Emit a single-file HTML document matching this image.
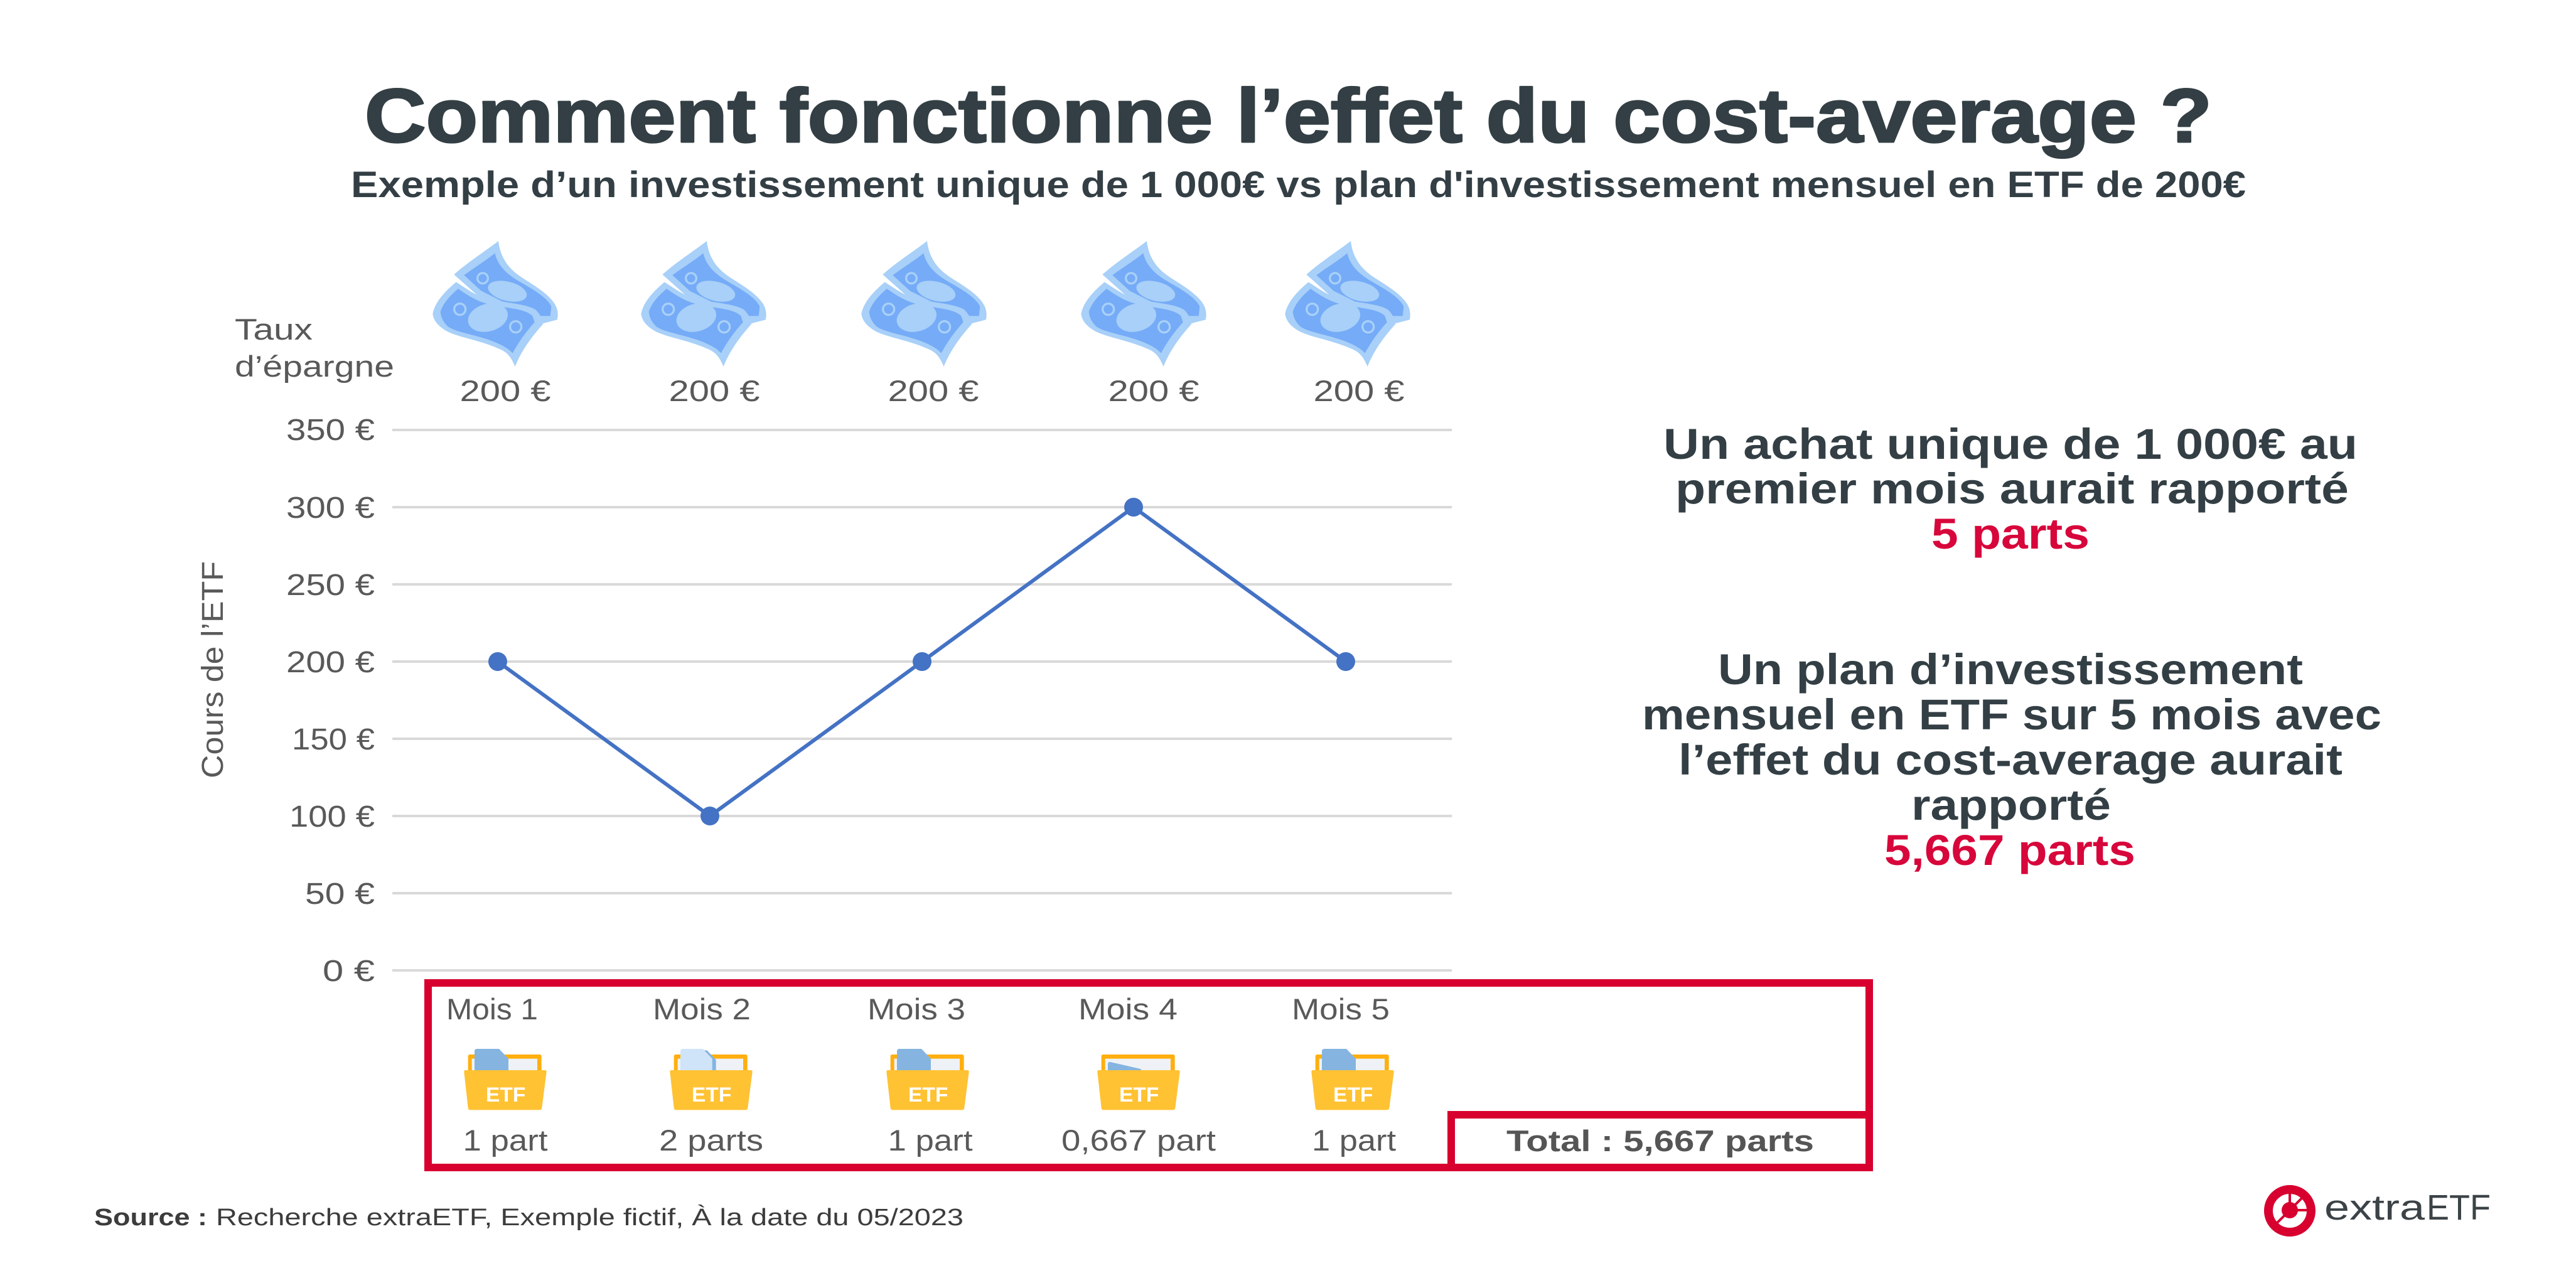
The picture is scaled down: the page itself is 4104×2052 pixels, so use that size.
<!DOCTYPE html>
<html>
<head>
<meta charset="utf-8">
<style>
  html,body{margin:0;padding:0;background:#fff;}
  svg{display:block;}
  text{font-family:"Liberation Sans","DejaVu Sans",sans-serif;}
</style>
</head>
<body>
<svg width="4104" height="2052" viewBox="0 0 4104 2052" xmlns="http://www.w3.org/2000/svg">
  <defs>
    <g id="bill">
      <path fill="#a8d0f8" d="M190,232 C260,170 340,120 402,72 C410,140 440,200 520,250 C600,300 660,340 680,390 C690,420 685,440 683,448 L560,480 L300,330 Z"/>
      <path fill="#75abf7" d="M238,235 C300,190 350,160 385,130 C400,190 440,230 510,270 C590,315 640,350 655,385 L650,430 L560,430 L320,310 Z"/>
      <ellipse cx="445" cy="312" rx="95" ry="46" fill="#a8d0f8" transform="rotate(14 445 312)"/>
      <circle cx="327" cy="250" r="25" fill="#75abf7" stroke="#a8d0f8" stroke-width="10"/>
      <path fill="#a8d0f8" d="M88,420 C100,360 150,310 200,268 C250,300 290,330 340,345 C440,370 530,370 580,400 C600,420 612,440 615,470 C560,530 510,600 482,672 C460,620 440,600 400,585 C310,545 200,530 150,500 C110,475 92,450 88,420 Z"/>
      <path fill="#75abf7" d="M125,410 C140,365 175,330 210,300 C260,335 300,360 360,375 C450,395 530,395 565,430 L575,460 C530,510 495,560 470,608 C450,585 420,570 385,555 C300,520 200,510 160,480 C140,460 128,440 125,410 Z"/>
      <ellipse cx="352" cy="438" rx="97" ry="66" fill="#a8d0f8" transform="rotate(-15 352 438)"/>
      <circle cx="218" cy="398" r="27" fill="#75abf7" stroke="#a8d0f8" stroke-width="10"/>
      <circle cx="485" cy="482" r="27" fill="#75abf7" stroke="#a8d0f8" stroke-width="10"/>
    </g>
    <g id="fback">
      <rect x="197" y="390" width="351" height="150" rx="8" fill="#ffaf0f"/>
      <rect x="215" y="410" width="313" height="70" fill="#eef2f7"/>
    </g>
    <g id="ffront">
      <path d="M185,465 L564,465 Q573,465 572,474 L550,645 Q549,655 539,655 L207,655 Q198,655 197,645 L178,474 Q177,465 185,465 Z" fill="#ffc233"/>
    </g>
  </defs>

  <rect x="0" y="0" width="4104" height="2052" fill="#ffffff"/>

  <!-- Title -->
  <text x="581" y="226" font-size="121" font-weight="700" fill="#333f44" stroke="#333f44" stroke-width="3" stroke-linejoin="round" textLength="2943" lengthAdjust="spacingAndGlyphs">Comment fonctionne l’effet du cost-average ?</text>
  <text x="559" y="314" font-size="58" font-weight="700" fill="#333f44" textLength="3019" lengthAdjust="spacingAndGlyphs">Exemple d’un investissement unique de 1 000€ vs plan d'investissement mensuel en ETF de 200€</text>

  <!-- Money icons -->
  <use href="#bill" transform="translate(660,360) scale(0.33333)"/>
  <use href="#bill" transform="translate(992,360) scale(0.33333)"/>
  <use href="#bill" transform="translate(1343,360) scale(0.33333)"/>
  <use href="#bill" transform="translate(1693,360) scale(0.33333)"/>
  <use href="#bill" transform="translate(2018,360) scale(0.33333)"/>

  <!-- Taux d'épargne -->
  <text x="374" y="541" font-size="47" fill="#595959" textLength="124" lengthAdjust="spacingAndGlyphs">Taux</text>
  <text x="374" y="600" font-size="47" fill="#595959" textLength="254" lengthAdjust="spacingAndGlyphs">d’épargne</text>

  <!-- 200 € labels -->
  <g font-size="47" fill="#595959" text-anchor="middle">
    <text x="805" y="639" textLength="145" lengthAdjust="spacingAndGlyphs">200 €</text>
    <text x="1138" y="639" textLength="145" lengthAdjust="spacingAndGlyphs">200 €</text>
    <text x="1487" y="639" textLength="145" lengthAdjust="spacingAndGlyphs">200 €</text>
    <text x="1838" y="639" textLength="145" lengthAdjust="spacingAndGlyphs">200 €</text>
    <text x="2165" y="639" textLength="145" lengthAdjust="spacingAndGlyphs">200 €</text>
  </g>

  <!-- Gridlines -->
  <g stroke="#d9d9d9" stroke-width="4">
    <line x1="625" y1="685" x2="2313" y2="685"/>
    <line x1="625" y1="808" x2="2313" y2="808"/>
    <line x1="625" y1="931" x2="2313" y2="931"/>
    <line x1="625" y1="1054" x2="2313" y2="1054"/>
    <line x1="625" y1="1177" x2="2313" y2="1177"/>
    <line x1="625" y1="1300" x2="2313" y2="1300"/>
    <line x1="625" y1="1423" x2="2313" y2="1423"/>
    <line x1="625" y1="1546" x2="2313" y2="1546"/>
  </g>

  <!-- Y tick labels -->
  <g font-size="48" fill="#595959" text-anchor="end">
    <text x="597" y="701" textLength="141" lengthAdjust="spacingAndGlyphs">350 €</text>
    <text x="597" y="825" textLength="141" lengthAdjust="spacingAndGlyphs">300 €</text>
    <text x="597" y="948" textLength="141" lengthAdjust="spacingAndGlyphs">250 €</text>
    <text x="597" y="1071" textLength="141" lengthAdjust="spacingAndGlyphs">200 €</text>
    <text x="597" y="1194" textLength="132" lengthAdjust="spacingAndGlyphs">150 €</text>
    <text x="597" y="1317" textLength="136" lengthAdjust="spacingAndGlyphs">100 €</text>
    <text x="597" y="1440" textLength="111" lengthAdjust="spacingAndGlyphs">50 €</text>
    <text x="597" y="1563" textLength="83" lengthAdjust="spacingAndGlyphs">0 €</text>
  </g>

  <!-- Y axis title -->
  <text transform="translate(355,1067) rotate(-90)" x="0" y="0" font-size="48" fill="#595959" text-anchor="middle" textLength="346" lengthAdjust="spacingAndGlyphs">Cours de l’ETF</text>

  <!-- Series -->
  <polyline points="793,1054 1131,1300 1469,1054 1806,808 2144,1054" fill="none" stroke="#4472c4" stroke-width="6" stroke-linejoin="round"/>
  <g fill="#4472c4">
    <circle cx="793" cy="1054" r="15"/>
    <circle cx="1131" cy="1300" r="15"/>
    <circle cx="1469" cy="1054" r="15"/>
    <circle cx="1806" cy="808" r="15"/>
    <circle cx="2144" cy="1054" r="15"/>
  </g>

  <!-- Red boxes -->
  <rect x="682" y="1566" width="2296" height="294" fill="none" stroke="#d7002f" stroke-width="12"/>
  <rect x="2312" y="1776" width="666" height="84" fill="none" stroke="#d7002f" stroke-width="12"/>

  <!-- Mois labels -->
  <g font-size="47" fill="#595959" text-anchor="middle">
    <text x="784" y="1624" textLength="146" lengthAdjust="spacingAndGlyphs">Mois 1</text>
    <text x="1118" y="1624" textLength="156" lengthAdjust="spacingAndGlyphs">Mois 2</text>
    <text x="1460" y="1624" textLength="156" lengthAdjust="spacingAndGlyphs">Mois 3</text>
    <text x="1797" y="1624" textLength="158" lengthAdjust="spacingAndGlyphs">Mois 4</text>
    <text x="2136" y="1624" textLength="156" lengthAdjust="spacingAndGlyphs">Mois 5</text>
  </g>

  <!-- Folders -->
  <g transform="translate(680,1550) scale(0.33333)">
    <use href="#fback"/>
    <path d="M240,363 L345,363 L390,410 L390,495 L228,495 L228,375 Q228,363 240,363 Z" fill="#85b4e0"/>
    <use href="#ffront"/>
    <text x="377" y="615" font-size="96" font-weight="700" fill="#ffffff" text-anchor="middle" textLength="190" lengthAdjust="spacingAndGlyphs">ETF</text>
  </g>
  <g transform="translate(1008,1550) scale(0.33333)">
    <use href="#fback"/>
    <path d="M260,370 L355,370 L398,415 L398,495 L250,495 L250,382 Q250,370 260,370 Z" fill="#85b4e0"/>
    <path d="M240,363 L335,363 L380,410 L380,495 L228,495 L228,375 Q228,363 240,363 Z" fill="#cfe4f8"/>
    <use href="#ffront"/>
    <text x="377" y="615" font-size="96" font-weight="700" fill="#ffffff" text-anchor="middle" textLength="190" lengthAdjust="spacingAndGlyphs">ETF</text>
  </g>
  <g transform="translate(1353,1550) scale(0.33333)">
    <use href="#fback"/>
    <path d="M240,363 L345,363 L390,410 L390,495 L228,495 L228,375 Q228,363 240,363 Z" fill="#85b4e0"/>
    <use href="#ffront"/>
    <text x="377" y="615" font-size="96" font-weight="700" fill="#ffffff" text-anchor="middle" textLength="190" lengthAdjust="spacingAndGlyphs">ETF</text>
  </g>
  <g transform="translate(1689,1550) scale(0.33333)">
    <use href="#fback"/>
    <path d="M240,426 L380,458 Q390,460 390,470 L390,495 L228,495 L228,438 Q228,423 240,426 Z" fill="#85b4e0"/>
    <use href="#ffront"/>
    <text x="377" y="615" font-size="96" font-weight="700" fill="#ffffff" text-anchor="middle" textLength="190" lengthAdjust="spacingAndGlyphs">ETF</text>
  </g>
  <g transform="translate(2030,1550) scale(0.33333)">
    <use href="#fback"/>
    <path d="M240,363 L345,363 L390,410 L390,495 L228,495 L228,375 Q228,363 240,363 Z" fill="#85b4e0"/>
    <use href="#ffront"/>
    <text x="377" y="615" font-size="96" font-weight="700" fill="#ffffff" text-anchor="middle" textLength="190" lengthAdjust="spacingAndGlyphs">ETF</text>
  </g>

  <!-- Parts labels -->
  <g font-size="47" fill="#595959" text-anchor="middle">
    <text x="805" y="1833" textLength="135" lengthAdjust="spacingAndGlyphs">1 part</text>
    <text x="1133" y="1833" textLength="166" lengthAdjust="spacingAndGlyphs">2 parts</text>
    <text x="1482" y="1833" textLength="135" lengthAdjust="spacingAndGlyphs">1 part</text>
    <text x="1814" y="1833" textLength="246" lengthAdjust="spacingAndGlyphs">0,667 part</text>
    <text x="2157" y="1833" textLength="134" lengthAdjust="spacingAndGlyphs">1 part</text>
  </g>
  <text x="2645" y="1834" font-size="47" font-weight="700" fill="#555555" text-anchor="middle" textLength="490" lengthAdjust="spacingAndGlyphs">Total : 5,667 parts</text>

  <!-- Right-side text -->
  <g font-size="69" font-weight="700" fill="#333f44">
    <text x="2650" y="731" textLength="1106" lengthAdjust="spacingAndGlyphs">Un achat unique de 1 000€ au</text>
    <text x="2669" y="802" textLength="1073" lengthAdjust="spacingAndGlyphs">premier mois aurait rapporté</text>
    <text x="3077" y="874" fill="#d7063b" textLength="252" lengthAdjust="spacingAndGlyphs">5 parts</text>
    <text x="2737" y="1090" textLength="932" lengthAdjust="spacingAndGlyphs">Un plan d’investissement</text>
    <text x="2616" y="1162" textLength="1178" lengthAdjust="spacingAndGlyphs">mensuel en ETF sur 5 mois avec</text>
    <text x="2674" y="1234" textLength="1058" lengthAdjust="spacingAndGlyphs">l’effet du cost-average aurait</text>
    <text x="3045" y="1306" textLength="318" lengthAdjust="spacingAndGlyphs">rapporté</text>
    <text x="3002" y="1378" fill="#d7063b" textLength="400" lengthAdjust="spacingAndGlyphs">5,667 parts</text>
  </g>

  <!-- Source -->
  <text x="150" y="1952" font-size="38" font-weight="700" fill="#3c3c3c" textLength="180" lengthAdjust="spacingAndGlyphs">Source :</text>
  <text x="344" y="1952" font-size="38" fill="#3c3c3c" textLength="1191" lengthAdjust="spacingAndGlyphs">Recherche extraETF, Exemple fictif, À la date du 05/2023</text>

  <!-- Logo -->
  <circle cx="3648" cy="1929" r="34" fill="none" stroke="#d7002f" stroke-width="14"/>
  <circle cx="3648" cy="1928" r="13" fill="#d7002f"/>
  <g stroke="#d7002f" stroke-width="4">
    <line x1="3648" y1="1928" x2="3648" y2="1894"/>
    <line x1="3648" y1="1928" x2="3672" y2="1904"/>
    <line x1="3648" y1="1928" x2="3682" y2="1928"/>
    <line x1="3648" y1="1928" x2="3624" y2="1952"/>
  </g>
  <text x="3703" y="1943" font-size="57" fill="#3c4347" textLength="160" lengthAdjust="spacingAndGlyphs">extra</text>
  <text x="3866" y="1943" font-size="57" fill="#3c4347" textLength="102" lengthAdjust="spacingAndGlyphs">ETF</text>
</svg>
</body>
</html>
